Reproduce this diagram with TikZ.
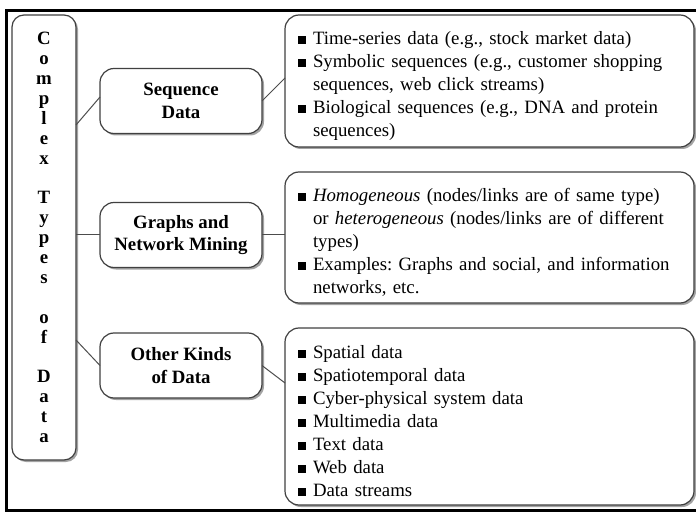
\documentclass[tikz,border=0pt]{standalone}
\usepackage{fontspec}
\setmainfont{Liberation Serif}
\usetikzlibrary{shadows,calc}
\newcommand\bitem{\par\hangindent=15pt\hangafter=1\noindent\makebox[15pt][l]{\raisebox{0.6pt}{\rule{8pt}{8pt}}}}
\newcommand\nl{\hfil\break}
\tikzset{
  shd/.style={drop shadow={shadow xshift=2pt,shadow yshift=-2pt,fill=black!45,opacity=0.8}},
  colbox/.style={draw=black!75,line width=1.2pt,rounded corners=12pt,fill=white,shd,
     minimum width=64pt,minimum height=445pt,inner sep=0pt,outer sep=0pt,align=center,
     font=\bfseries\fontsize{18.8pt}{19.9pt}\selectfont},
  midbox/.style={draw=black!75,line width=1.2pt,rounded corners=14pt,fill=white,shd,
     minimum width=162pt,minimum height=65pt,inner sep=0pt,outer sep=0pt,align=center,
     font=\bfseries\fontsize{18.8pt}{22.5pt}\selectfont},
  listbox/.style={draw=black!75,line width=1.2pt,rounded corners=14pt,fill=white,shd,
     text width=383pt,inner xsep=13pt,inner ysep=0pt,outer sep=0pt,align=left,
     font=\fontsize{18.8pt}{23pt}\selectfont\frenchspacing},
  conn/.style={draw=black!70,line width=1pt},
  frame/.style={line width=3.5pt,line join=miter}
}
\begin{document}
\begin{tikzpicture}[x=1pt,y=-1pt]
\useasboundingbox (0,0) rectangle (696,513);
\draw[frame] (699,10.5) -- (6.5,10.5) -- (6.5,510.5) -- (699,510.5);

\node[colbox] (L) at (44,237.5) {C\\o\\m\\p\\l\\e\\x\\[19.9pt]T\\y\\p\\e\\s\\[19.9pt]o\\f\\[19.9pt]D\\a\\t\\a};

\node[midbox] (S) at (181,101) {Sequence\\Data};
\node[midbox] (G) at (181,235) {Graphs and\\Network Mining};
\node[midbox] (O) at (181,365.5) {Other Kinds\\of Data};

\node[listbox,minimum height=132pt] (R1) at (489.5,81) {%
\bitem Time-series data (e.g., stock market data)
\bitem Symbolic sequences (e.g., customer shopping\nl sequences, web click streams)
\bitem Biological sequences (e.g., DNA and protein\nl sequences)\par\vspace*{6pt}};
\node[listbox,minimum height=131pt] (R2) at (489.5,237.5) {%
\bitem \textit{Homogeneous} (nodes/links are of same type)\nl or \textit{heterogeneous} (nodes/links are of different\nl types)
\bitem Examples: Graphs and social, and information\nl networks, etc.\par\vspace*{4pt}};
\node[listbox,minimum height=177pt] (R3) at (489.5,416.5) {%
\bitem Spatial data
\bitem Spatiotemporal data
\bitem Cyber-physical system data
\bitem Multimedia data
\bitem Text data
\bitem Web data
\bitem Data streams\par\vspace*{5pt}};

\draw[conn] ([yshift=112.5pt]L.east) -- ([yshift=4pt]S.west);
\draw[conn] (L.east |- G.west) -- (G.west);
\draw[conn] ([yshift=-102.5pt]L.east) -- (O.west);
\draw[conn] (S.east) -- ([yshift=3pt]R1.west);
\draw[conn] (G.east) -- (R2.west |- G.east);
\draw[conn] (O.east) -- ([yshift=33.5pt]R3.west);
\end{tikzpicture}
\end{document}
